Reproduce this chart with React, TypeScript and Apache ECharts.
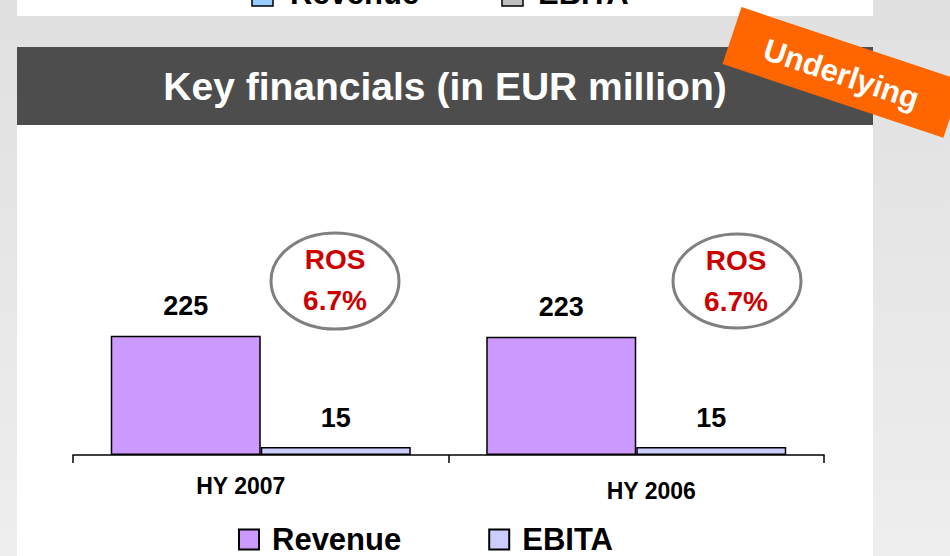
import React, { useEffect, useRef } from "react";
import * as echarts from "echarts";

const categories = ["HY 2007", "HY 2006"];
const revenue = [225, 223];
const ebita = [15, 15];
const rosLabels = ["6.7%", "6.7%"];
const seriesNames = ["Revenue", "EBITA"];
const topLegendNames = ["Revenue", "EBITA"];

const FONT = "'Liberation Sans', Arial, Helvetica, sans-serif";

export default function App() {
  const ref = useRef<HTMLDivElement>(null);
  useEffect(() => {
    if (!ref.current) return;
    const chart = echarts.init(ref.current, null, { renderer: "svg" });
    const ang = (-18.5 * Math.PI) / 180;
    const ellipses = [
      { cx: 335, cy: 281, rx: 64, ry: 48, tx: 335, y1: 259, y2: 300 },
      { cx: 737, cy: 281, rx: 64, ry: 47, tx: 736, y1: 260, y2: 301 },
    ];
    const graphics: any[] = [
      { type: "rect", z: -10, shape: { x: 17, y: 0, width: 856, height: 16 }, style: { fill: "#ffffff" }, silent: true },
      { type: "rect", z: -10, shape: { x: 17, y: 47, width: 856, height: 78 }, style: { fill: "#4d4d4d" }, silent: true },
      { type: "rect", z: -10, shape: { x: 17, y: 125, width: 856, height: 431 }, style: { fill: "#ffffff" }, silent: true },
      {
        type: "text", z: 5, x: 445, y: 86,
        style: { text: "Key financials (in EUR million)", fill: "#ffffff", font: `bold 39px ${FONT}`, align: "center", verticalAlign: "middle" },
      },
      // partially visible legend of upper slide
      { type: "rect", z: 5, shape: { x: 252, y: -15, width: 21, height: 21 }, style: { fill: "#99ccff", stroke: "#000", lineWidth: 1.5 } },
      { type: "text", z: 5, x: 290, y: -7, style: { text: topLegendNames[0], fill: "#000", font: `bold 31px ${FONT}`, align: "left", verticalAlign: "middle" } },
      { type: "rect", z: 5, shape: { x: 502, y: -15, width: 21, height: 21 }, style: { fill: "#c0c0c0", stroke: "#000", lineWidth: 1.5 } },
      { type: "text", z: 5, x: 538, y: -7, style: { text: topLegendNames[1], fill: "#000", font: `bold 31px ${FONT}`, align: "left", verticalAlign: "middle" } },
      // ribbon
      {
        type: "group", z: 50, x: 732, y: 35.5, rotation: ang,
        children: [
          { type: "rect", z: 50, shape: { x: 0, y: -30, width: 233, height: 60 }, style: { fill: "#ff6600" } },
          { type: "text", z: 51, x: 116, y: 2, style: { text: "Underlying", fill: "#ffffff", font: `bold 31px ${FONT}`, align: "center", verticalAlign: "middle" } },
        ],
      },
    ];
    ellipses.forEach((e, i) => {
      graphics.push({ type: "ellipse", z: 5, shape: { cx: e.cx, cy: e.cy, rx: e.rx, ry: e.ry }, style: { fill: "#ffffff", stroke: "#808080", lineWidth: 3 } });
      graphics.push({ type: "text", z: 6, x: e.tx, y: e.y1, style: { text: "ROS", fill: "#cc0000", font: `bold 28px ${FONT}`, align: "center", verticalAlign: "middle" } });
      graphics.push({ type: "text", z: 6, x: e.tx, y: e.y2, style: { text: rosLabels[i], fill: "#cc0000", font: `bold 28px ${FONT}`, align: "center", verticalAlign: "middle" } });
    });

    chart.setOption({
      animation: false,
      backgroundColor: {
        type: "linear", x: 0, y: 0, x2: 0, y2: 1,
        colorStops: [
          { offset: 0, color: "#e0e0e0" },
          { offset: 1, color: "#eeeeee" },
        ],
      },
      textStyle: { fontFamily: FONT },
      grid: { left: 73, right: 126, top: 243, bottom: 101, containLabel: false },
      legend: {
        data: seriesNames,
        left: 233,
        top: 519,
        icon: "rect",
        itemWidth: 20,
        itemHeight: 20,
        itemGap: 87,
        textStyle: { fontSize: 31, fontWeight: "bold", color: "#000", fontFamily: FONT, padding: [0, 0, 0, 8] },
      },
      xAxis: {
        type: "category",
        data: categories,
        axisLine: { lineStyle: { color: "#000", width: 1.5 } },
        axisTick: { show: true, length: 8, lineStyle: { color: "#000", width: 1.5 } },
        axisLabel: {
          margin: 19,
          interval: 0,
          formatter: (v: string, idx: number) => (idx === 0 ? `{a|${v}}` : `{b|${v}}`),
          rich: {
            a: { fontSize: 23, fontWeight: "bold", color: "#000", fontFamily: FONT, padding: [0, 40, 0, 0] },
            b: { fontSize: 23, fontWeight: "bold", color: "#000", fontFamily: FONT, padding: [5, 0, 0, 30] },
          },
        },
      },
      yAxis: { type: "value", min: 0, max: 400, show: false, splitLine: { show: false } },
      graphic: graphics,
      series: [
        {
          name: seriesNames[0],
          type: "bar",
          data: revenue,
          barWidth: 150,
          barGap: "0%",
          itemStyle: { color: "#cc99ff", borderColor: "#000", borderWidth: 1.5 },
          label: { show: true, position: "top", distance: 16, fontSize: 27, fontWeight: "bold", color: "#000", fontFamily: FONT },
        },
        {
          name: seriesNames[1],
          type: "bar",
          data: ebita,
          barWidth: 150,
          barGap: "0%",
          itemStyle: { color: "#ccccff", borderColor: "#000", borderWidth: 1.5 },
          label: { show: true, position: "top", distance: 16, fontSize: 27, fontWeight: "bold", color: "#000", fontFamily: FONT },
        },
      ],
    });
    return () => chart.dispose();
  }, []);
  return <div ref={ref} style={{ position: "absolute", left: 0, top: 0, width: 950, height: 556 }} />;
}
